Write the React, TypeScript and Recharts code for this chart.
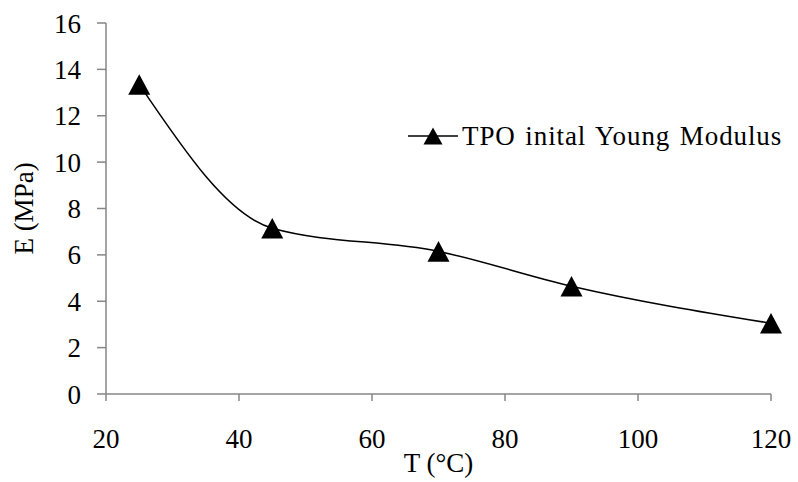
import { LineChart, Line, XAxis, YAxis, Legend } from 'recharts';

const temps = [25, 45, 70, 90, 120];
const modulus = [13.35, 7.15, 6.15, 4.65, 3.05];
const xTicks = [20, 40, 60, 80, 100, 120];
const yTicks = [0, 2, 4, 6, 8, 10, 12, 14, 16];
const seriesName = 'TPO inital Young Modulus';

const data = temps.map((t, i) => ({ t, e: modulus[i] }));

const FONT = '"Liberation Serif", "Times New Roman", serif';
const AXIS = '#868686';

function TriangleDot(props: any) {
  const { cx, cy, index } = props;
  if (cx == null || cy == null) return <g key={index} />;
  return (
    <path
      key={index}
      d={`M${cx},${cy - 10.3}L${cx + 11},${cy + 10.3}L${cx - 11},${cy + 10.3}Z`}
      fill="#000"
    />
  );
}

function LegendBox() {
  return (
    <div style={{ display: 'flex', alignItems: 'center', height: 32, fontFamily: FONT, fontSize: 27, lineHeight: '32px', color: '#000', whiteSpace: 'nowrap' }}>
      <svg width={54} height={32} style={{ display: 'block' }}>
        <line x1={0} y1={16} x2={50} y2={16} stroke="#000" strokeWidth={1.5} />
        <path d="M25,7.5L34.5,24.5L15.5,24.5Z" fill="#000" />
      </svg>
      <span style={{ letterSpacing: '0.9px', wordSpacing: '2px' }}>{seriesName}</span>
    </div>
  );
}

export default function App() {
  return (
    <div style={{ position: 'absolute', left: 0, top: 0, background: '#fff' }}>
      <LineChart
        width={798}
        height={482}
        data={data}
        margin={{ top: 23, right: 27, bottom: 0, left: 0 }}
        style={{ fontFamily: FONT }}
      >
        <XAxis
          dataKey="t"
          type="number"
          domain={[20, 120]}
          ticks={xTicks}
          interval={0}
          height={88}
          tickSize={7}
          tickMargin={28}
          axisLine={{ stroke: AXIS, strokeWidth: 1.5 }}
          tickLine={{ stroke: AXIS, strokeWidth: 1.5 }}
          tick={{ fill: '#000', fontSize: 27, fontFamily: FONT }}
          label={{ value: 'T (°C)', position: 'insideBottom', offset: 10, fill: '#000', fontSize: 27, fontFamily: FONT }}
        />
        <YAxis
          type="number"
          domain={[0, 16]}
          ticks={yTicks}
          interval={0}
          width={106}
          tickSize={9}
          tickMargin={16}
          axisLine={{ stroke: AXIS, strokeWidth: 1.5 }}
          tickLine={{ stroke: AXIS, strokeWidth: 1.5 }}
          tick={{ fill: '#000', fontSize: 27, fontFamily: FONT }}
          label={{ value: 'E (MPa)', angle: -90, position: 'insideLeft', offset: 23, fill: '#000', fontSize: 27, fontFamily: FONT, style: { textAnchor: 'middle' } }}
        />
        <Legend
          layout="vertical"
          align="center"
          verticalAlign="middle"
          content={() => <LegendBox />}
          wrapperStyle={{ left: 408, top: 120, width: 'auto' }}
        />
        <Line
          type="monotone"
          dataKey="e"
          name={seriesName}
          stroke="#000"
          strokeWidth={1.5}
          dot={TriangleDot}
          activeDot={false}
          isAnimationActive={false}
        />
      </LineChart>
    </div>
  );
}
